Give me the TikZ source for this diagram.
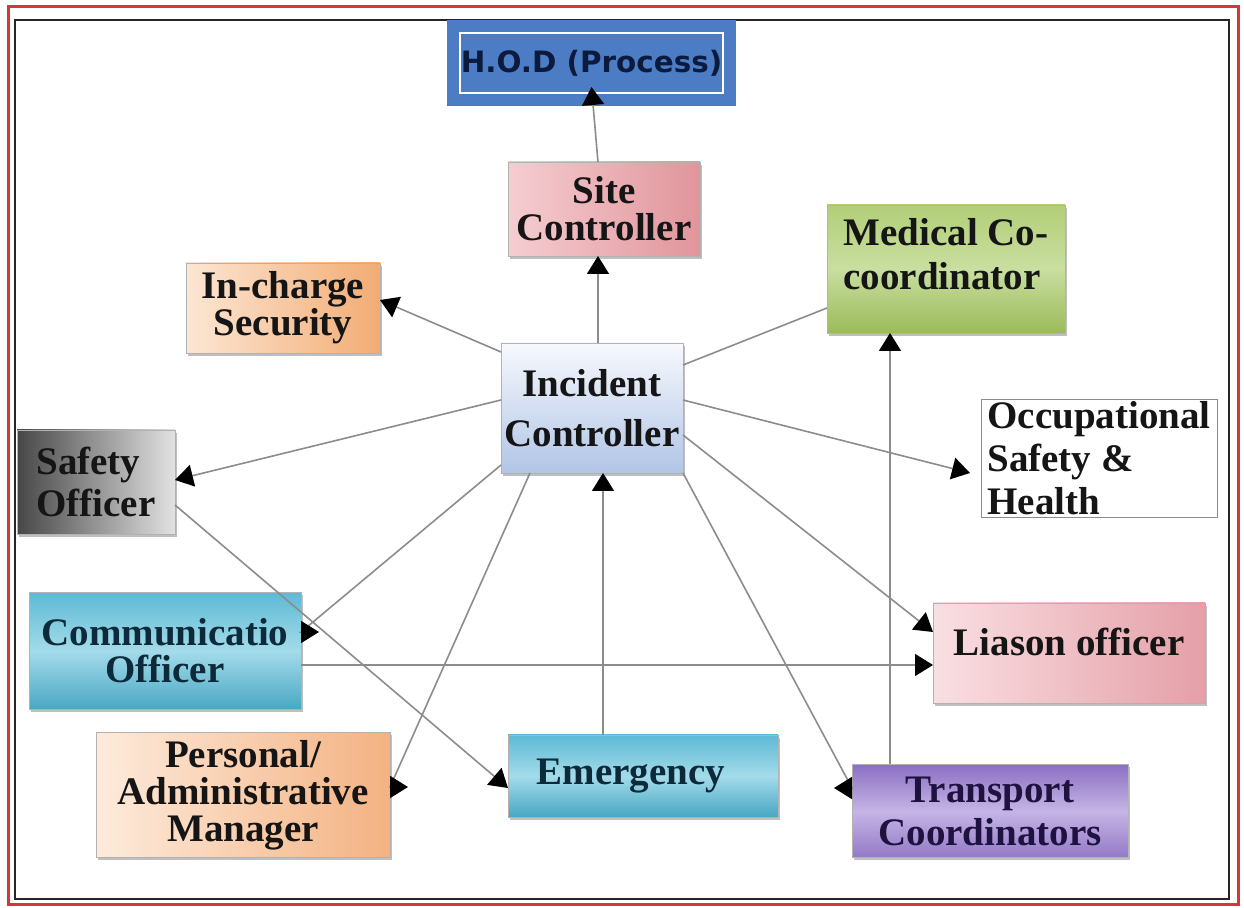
\documentclass[tikz,border=0pt]{standalone}
\usepackage{fontspec}
\setmainfont{Liberation Serif}
\newfontfamily\hodfont{DejaVu Sans}
\usetikzlibrary{arrows.meta,shadows}

\definecolor{cadrerouge}{HTML}{D1383D}
\definecolor{hodbleu}{HTML}{4C7DC4}
\definecolor{hodtexte}{HTML}{0C1A3E}
\definecolor{encre}{HTML}{151515}
\definecolor{encrebleue}{HTML}{0C2A3A}
\definecolor{encreviolette}{HTML}{1E1240}
\definecolor{siteG}{HTML}{F5CDD1}
\definecolor{siteD}{HTML}{E0959B}
\definecolor{secG}{HTML}{FCE6D3}
\definecolor{secD}{HTML}{F2AC74}
\definecolor{medH}{HTML}{B2CE78}
\definecolor{medM}{HTML}{C9DEA0}
\definecolor{medB}{HTML}{9BBB59}
\definecolor{incH}{HTML}{F7F9FD}
\definecolor{incB}{HTML}{B1C5E6}
\definecolor{safeG}{HTML}{474747}
\definecolor{safeD}{HTML}{E2E2E2}
\definecolor{commH}{HTML}{5DBAD4}
\definecolor{commM}{HTML}{A3DBEA}
\definecolor{commB}{HTML}{48A7C3}
\definecolor{persG}{HTML}{FDEBDC}
\definecolor{persD}{HTML}{F3B282}
\definecolor{liaG}{HTML}{F9DFE2}
\definecolor{liaD}{HTML}{E59FA8}
\definecolor{transH}{HTML}{8B6FC3}
\definecolor{transM}{HTML}{C5B5E5}
\definecolor{transB}{HTML}{9479C8}

\tikzset{boite/.style = {rectangle, inner sep=0pt, outer sep=0pt, align=center,
                         draw=black!30, line width=0.4pt, text=encre,
                         font=\bfseries\fontsize{19.5}{#1}\selectfont},
         boite/.default=21pt,
         ombre/.style = {drop shadow={shadow xshift=1.2pt, shadow yshift=-1.4pt, opacity=.5}},
         hod/.style = {rectangle, inner sep=0pt, outer sep=0pt,
                       minimum width=131.5pt, minimum height=30pt,
                       fill=hodbleu, draw=hodbleu, line width=6pt,
                       double=white, double distance=1pt,
                       text=hodtexte, font=\hodfont\bfseries\fontsize{14.7}{16}\selectfont},
         lien/.style = {draw=black!45, line width=0.8pt},
         fleche/.style = {lien, -{Triangle[length=9pt, width=11pt, color=black]}}
        }

\begin{document}
\begin{tikzpicture}[x=0.5pt, y=-0.5pt]
  \useasboundingbox (0,0) rectangle (1244,908);
  % cadres
  \draw[cadrerouge, line width=1.5pt] (8,7) rectangle (1238,905);
  \draw[black!85, line width=1pt] (15,20) rectangle (1229,899);

  % boites
  \node[hod] (hod) at (591.5,63) {H.O.D (Process)};
  \node[boite=18.5pt, ombre, minimum width=96pt, minimum height=47pt,
        left color=siteG, right color=siteD] (site) at (604,209) {Site\\Controller};
  \node[boite=18.5pt, ombre, minimum width=97pt, minimum height=45pt,
        left color=secG, right color=secD] (sec) at (283,308) {In-charge\\Security};
  \node[boite=22pt, ombre, align=left, text depth=15.5pt, minimum width=119pt, minimum height=64pt,
        top color=medH, bottom color=medB, middle color=medM] (med) at (946,269) {Medical Co-\\coordinator};
  \node[boite=21.5pt, align=left, draw=black!45, fill=white,
        minimum width=118pt, minimum height=59pt] (osh) at (1099,458) {Occupational\\Safety \&\\Health};
  \node[boite=25pt, ombre, minimum width=91pt, minimum height=65pt,
        top color=incH, bottom color=incB] (inc) at (592,408) {Incident\\Controller};
  \node[boite, ombre, align=left, minimum width=79pt, minimum height=52pt,
        left color=safeG, right color=safeD] (safe) at (96,482) {Safety\\Officer};
  \node[boite=18.5pt, ombre, text=encrebleue, minimum width=136pt, minimum height=58.5pt,
        top color=commH, bottom color=commB, middle color=commM] (comm) at (165,651) {Communicatio\\Officer};
  \node[boite=18.5pt, ombre, minimum width=147pt, minimum height=62.5pt,
        left color=persG, right color=persD] (pers) at (243,795) {Personal/\\Administrative\\Manager};
  \node[boite, ombre, text=encrebleue, minimum width=135pt, minimum height=41pt,
        top color=commH, bottom color=commB, middle color=commM] (emer) at (643,776) {Emergency\hspace{12pt}};
  \node[boite, ombre, text depth=11.5pt, minimum width=136pt, minimum height=50pt,
        left color=liaG, right color=liaD] (lia) at (1069,653) {Liason officer};
  \node[boite=21.5pt, ombre, text=encreviolette, minimum width=138pt, minimum height=46.5pt,
        top color=transH, bottom color=transB, middle color=transM] (trans) at (990,811) {Transport\\Coordinators};

  % liens
  \draw[fleche] ([xshift=-3pt]site.north) -- ([yshift=3pt]hod.south);
  \draw[fleche] ([xshift=3pt]inc.north) -- ([xshift=3pt]inc.north |- site.south);
  \draw[fleche] ([yshift=-4.5pt]inc.north west) -- ([yshift=4pt]sec.east);
  \draw[lien] ([yshift=-11pt]inc.north east) -- ([yshift=-19.5pt]med.west);
  \draw[fleche] ([yshift=4pt]inc.east) -- ([xshift=-5.5pt,yshift=-7.5pt]osh.west);
  \draw[fleche] ([yshift=4pt]inc.west) -- ([yshift=1pt]safe.east);
  \draw[fleche] ([yshift=4pt]inc.south west) -- ([yshift=9.5pt]comm.east) -- ++(9pt,0);
  \draw[fleche] ([xshift=14.5pt]inc.south west) -- ([yshift=4pt]pers.east) -- ++(9pt,0);
  \draw[fleche] ([xshift=-20pt]emer.north) -- ([xshift=-20pt]emer.north |- inc.south);
  \draw[fleche] ([yshift=-11.5pt]safe.east) -- ([yshift=-6pt]emer.west);
  \draw[fleche] ([yshift=-7pt]comm.east) -- ([yshift=-7pt]comm.east -| lia.west);
  \draw[fleche] ([yshift=-13.5pt]inc.east) -- ([yshift=10.5pt]lia.west);
  \draw[fleche] (inc.south east) -- ([yshift=11.5pt]trans.west) -- ++(-9pt,0);
  \draw[fleche] ([xshift=-50pt]trans.north) -- ([xshift=-50pt]trans.north |- med.south);
\end{tikzpicture}
\end{document}
